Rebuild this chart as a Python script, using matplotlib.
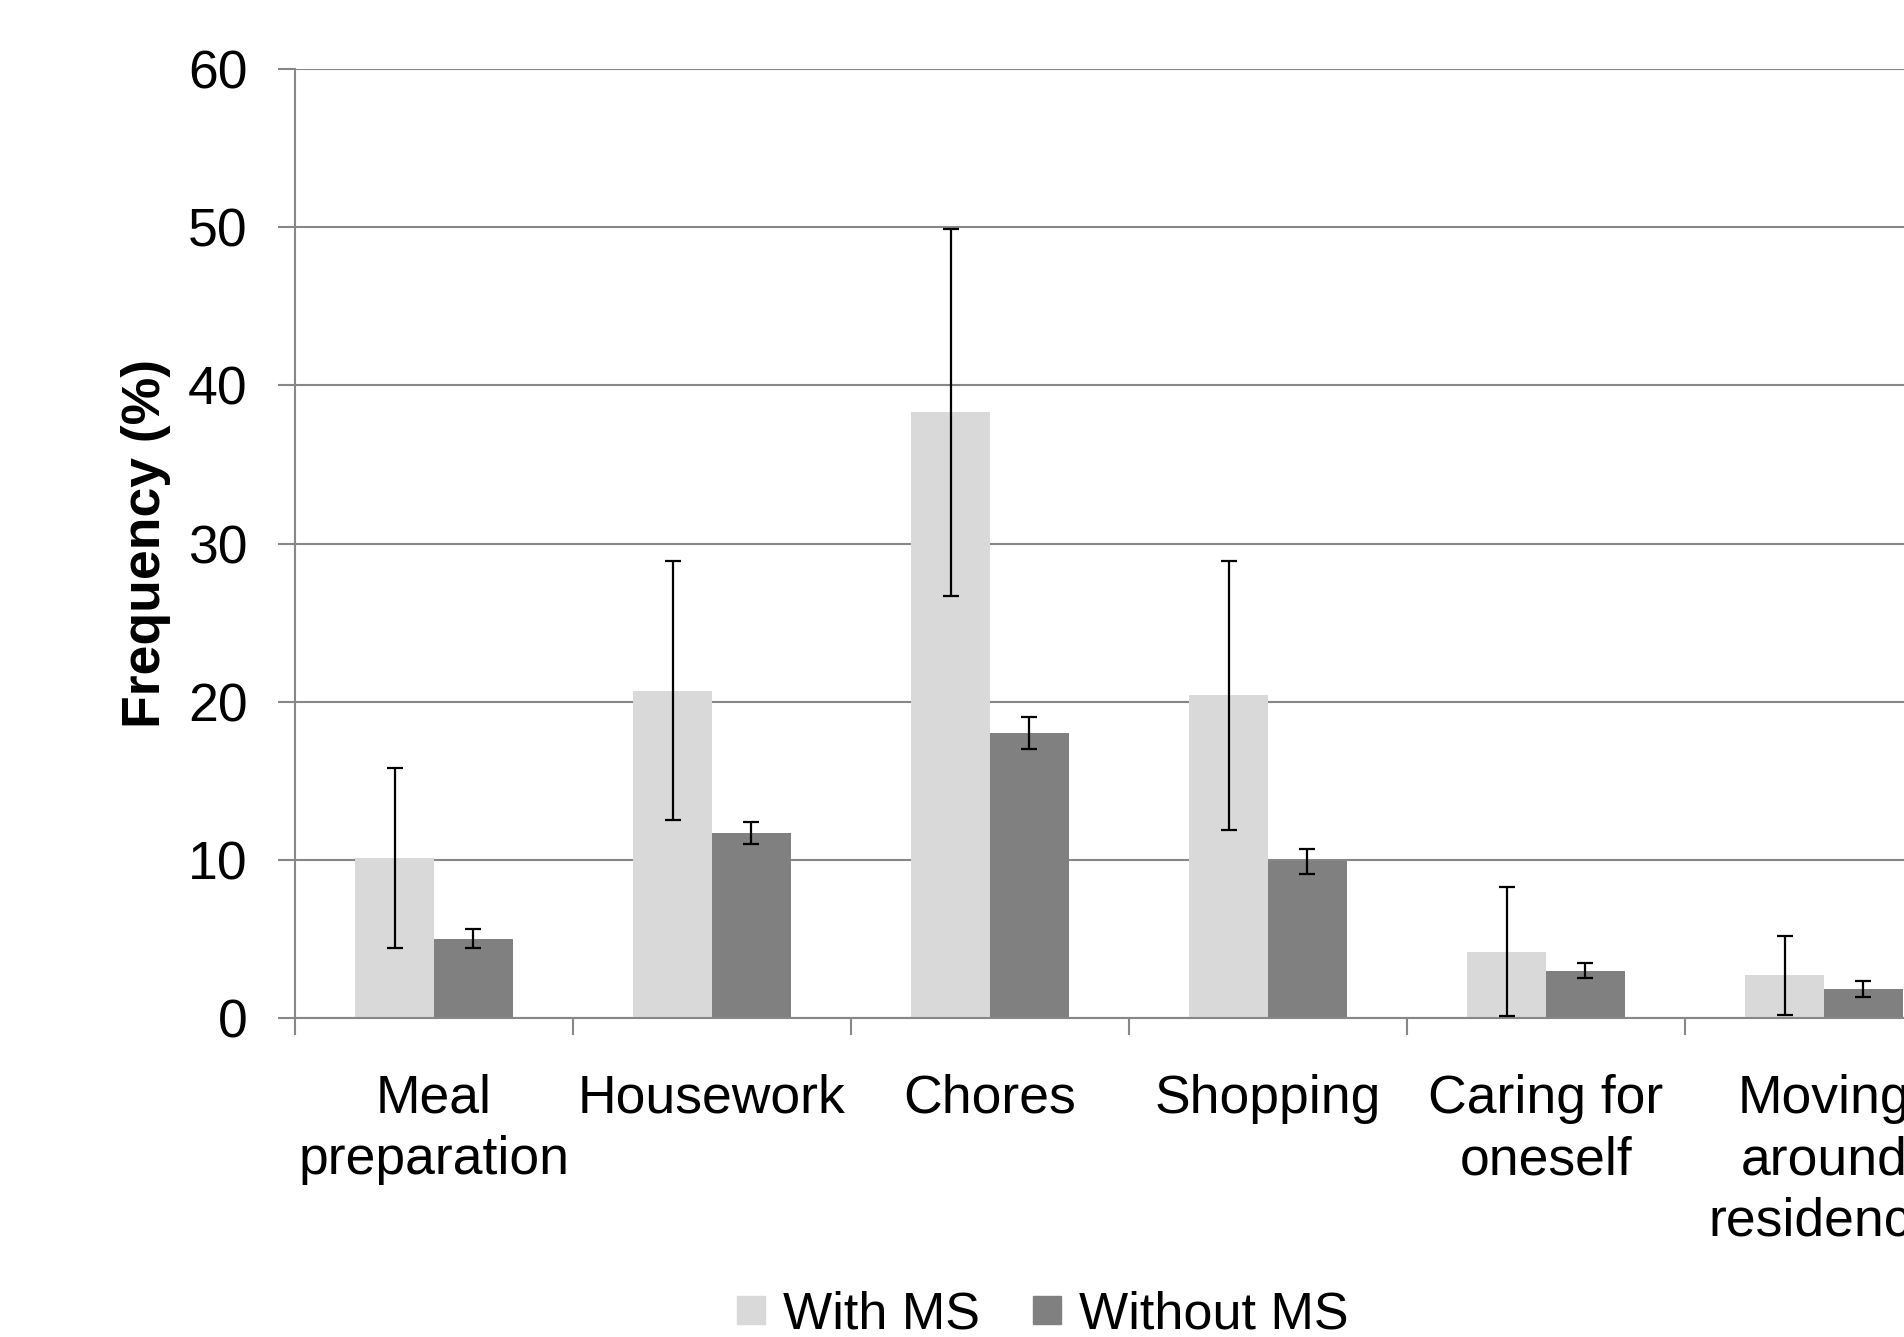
import matplotlib
matplotlib.use('Agg')
import matplotlib.pyplot as plt
from matplotlib.lines import Line2D
import numpy as np

plt.rcParams['font.family'] = ['Liberation Sans', 'DejaVu Sans']

categories = ['Meal\npreparation', 'Housework', 'Chores', 'Shopping',
              'Caring for\noneself', 'Moving\naround\nresidence']
with_ms = [10.1, 20.7, 38.3, 20.4, 4.2, 2.7]
with_ms_err = [5.7, 8.2, 11.6, 8.5, 4.1, 2.5]
without_ms = [5.0, 11.7, 18.0, 9.9, 3.0, 1.85]
without_ms_err = [0.6, 0.7, 1.0, 0.8, 0.45, 0.5]

c_with = '#d9d9d9'
c_without = '#808080'
grey = '#878787'
fs = 38.5

fig = plt.figure(figsize=(19.04, 13.37), dpi=100)
# axes runs off the right edge like the source image
ax = fig.add_axes([295/1904, 1 - 1018/1337, 1668/1904, (1018 - 69)/1337])

x = np.arange(len(categories))
w = 0.284
ax.bar(x - w/2, with_ms, w, color=c_with, zorder=2)
ax.bar(x + w/2, without_ms, w, color=c_without, zorder=2)
ax.errorbar(x - w/2, with_ms, yerr=with_ms_err, fmt='none', ecolor='black',
            elinewidth=1.6, capsize=6, capthick=1.6, zorder=3)
ax.errorbar(x + w/2, without_ms, yerr=without_ms_err, fmt='none', ecolor='black',
            elinewidth=1.6, capsize=6, capthick=1.6, zorder=3)

ax.set_xlim(-0.5, len(categories) - 0.5)
ax.set_ylim(0, 60)
ax.set_yticks(range(0, 61, 10))
ax.yaxis.grid(True, color=grey, linewidth=1.5, zorder=0)
ax.set_axisbelow(True)

ax.set_xticks(x)
ax.set_xticklabels(categories, fontsize=fs, linespacing=1.3)
ax.tick_params(axis='x', which='major', length=0, pad=40)
ax.set_xticks(np.arange(-0.5, len(categories) + 0.5, 1), minor=True)
ax.tick_params(axis='x', which='minor', length=12, width=1.5, color=grey)
ax.tick_params(axis='y', length=12, width=1.5, color=grey, labelsize=fs, pad=22)

for s in ['top', 'right']:
    ax.spines[s].set_visible(False)
for s in ['left', 'bottom']:
    ax.spines[s].set_color(grey)
    ax.spines[s].set_linewidth(1.5)

ax.set_ylabel('Frequency (%)', fontsize=fs, fontweight='bold')
ax.yaxis.set_label_coords((171 - 295)/1668, 0.5)

handles = [Line2D([], [], marker='s', linestyle='none', markersize=19.5,
                  markerfacecolor=c_with, markeredgecolor=c_with),
           Line2D([], [], marker='s', linestyle='none', markersize=19.5,
                  markerfacecolor=c_without, markeredgecolor=c_without)]
fig.legend(handles, ['With MS', 'Without MS'], loc='center',
           bbox_to_anchor=(1042/1904, 1 - 1315/1337), ncol=2, frameon=False,
           fontsize=37.5, handlelength=0.6, handletextpad=0.3, columnspacing=1.0,
           borderaxespad=0, borderpad=0)

fig.savefig('out.png', dpi=100)
